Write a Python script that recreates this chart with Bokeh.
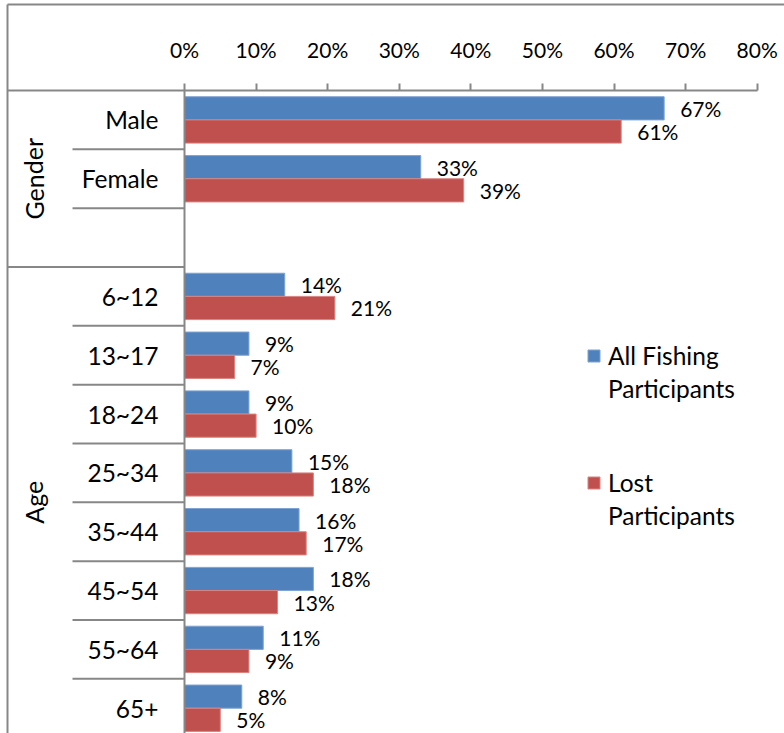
from bokeh.plotting import figure
from bokeh.models import (Range1d, LinearAxis, FixedTicker, PrintfTickFormatter,
                          Legend, LegendItem, ColumnDataSource)
from bokeh.core.properties import value
from bokeh.embed import file_html
from bokeh.resources import INLINE

# ---- data -------------------------------------------------------------
group_names = ["Gender", "Age"]

gender_categories = ["Male", "Female"]
gender_all_fishing = [67, 33]
gender_lost = [61, 39]
gender_slots = 3          # the gender block keeps one empty slot below "Female"

age_categories = ["6~12", "13~17", "18~24", "25~34", "35~44", "45~54", "55~64", "65+"]
age_all_fishing = [14, 9, 9, 15, 16, 18, 11, 8]
age_lost = [21, 7, 10, 18, 17, 13, 9, 5]

x_ticks = [0, 10, 20, 30, 40, 50, 60, 70, 80]
series_names = [["All Fishing", "Participants"], ["Lost", "Participants"]]

# ---- styling ----------------------------------------------------------
BLUE = "#4F81BD"
RED = "#C0504D"
GRAY = "#878787"
FONT = "Lato"

W, H = 784, 733
PX_PER_PCT = 7.159        # horizontal scale
PX_PER_ROW = 58.83        # height of one category slot
ZERO_X = 184              # canvas x of 0 %
HEADER_Y = 90             # canvas y of the top axis line

def xd(px):
    return (px - ZERO_X) / PX_PER_PCT

def yd(py):
    return (py - HEADER_Y) / PX_PER_ROW

# ---- rows -------------------------------------------------------------
rows_gender = list(range(len(gender_categories)))
rows_age = [gender_slots + i for i in range(len(age_categories))]
n_slots = gender_slots + len(age_categories)

cats = gender_categories + age_categories
rows = rows_gender + rows_age
all_vals = gender_all_fishing + age_all_fishing
lost_vals = gender_lost + age_lost

off = 0.197
bar_h = 0.394
src = ColumnDataSource(dict(
    cat=cats,
    y_all=[r + 0.5 - off for r in rows],
    y_lost=[r + 0.5 + off for r in rows],
    all=all_vals,
    lost=lost_vals,
    all_lbl=[f"{v}%" for v in all_vals],
    lost_lbl=[f"{v}%" for v in lost_vals],
))

p = figure(width=W, height=H, output_backend="svg", toolbar_location=None,
           x_range=Range1d(xd(0), xd(W)), y_range=Range1d(yd(H), yd(0)),
           x_axis_location=None, y_axis_location=None,
           min_border=0, min_border_left=0, min_border_right=0,
           min_border_top=0, min_border_bottom=0)
p.grid.visible = False
p.outline_line_color = None
p.background_fill_color = "white"
p.border_fill_color = "white"

# chart border (top and left edges)
left_edge = xd(7)
top_edge = yd(4)
p.segment(x0=[left_edge], x1=[xd(W + 5)], y0=[top_edge], y1=[top_edge],
          line_color=GRAY, line_width=2)
p.segment(x0=[left_edge], x1=[left_edge], y0=[top_edge], y1=[n_slots + 1],
          line_color=GRAY, line_width=2)

# category separators: short inside a group, full width between groups
inner_left = xd(72)
short_b = [1, 2] + [gender_slots + i for i in range(1, len(age_categories) + 1)]
p.segment(x0=inner_left, x1=0, y0=short_b, y1=short_b, line_color=GRAY, line_width=2)
p.segment(x0=[left_edge], x1=[0], y0=[gender_slots], y1=[gender_slots],
          line_color=GRAY, line_width=2)

# bars
r_all = p.hbar(y="y_all", left=0, right="all", height=bar_h, source=src,
               fill_color=BLUE, line_color="#7ea3d3", line_width=1)
r_lost = p.hbar(y="y_lost", left=0, right="lost", height=bar_h, source=src,
                fill_color=RED, line_color="#d98482", line_width=1)

# value labels
for ycol, xcol, tcol in (("y_all", "all", "all_lbl"), ("y_lost", "lost", "lost_lbl")):
    p.text(x=xcol, y=ycol, text=tcol, source=src, x_offset=16, y_offset=0,
           text_font=value(FONT), text_font_size="21px", text_color="black",
           text_align="left", text_baseline="middle")

# group labels (rotated)
p.text(x=[xd(33), xd(33)], y=[gender_slots / 2, gender_slots + len(age_categories) / 2],
       text=group_names, angle=1.5708, text_font=value(FONT), text_font_size="25px",
       text_color="black", text_align="center", text_baseline="middle")

# top percentage axis
top_axis = LinearAxis(fixed_location=0, ticker=FixedTicker(ticks=x_ticks),
                      formatter=PrintfTickFormatter(format="%d%%"),
                      bounds=(left_edge, x_ticks[-1]))
top_axis.axis_line_color = GRAY
top_axis.axis_line_width = 2
top_axis.major_tick_line_color = GRAY
top_axis.major_tick_line_width = 2
top_axis.major_tick_out = 7
top_axis.major_tick_in = 0
top_axis.minor_tick_out = 0
top_axis.minor_tick_in = 0
top_axis.major_label_standoff = 22
top_axis.major_label_text_font = FONT
top_axis.major_label_text_font_size = "21px"
top_axis.major_label_text_color = "black"
p.add_layout(top_axis, "above")

# category axis along the 0 % line
centers = [r + 0.5 for r in rows]
left_axis = LinearAxis(fixed_location=0, ticker=FixedTicker(ticks=centers),
                       major_label_overrides={c: n for c, n in zip(centers, cats)},
                       bounds=(0, n_slots + 1))
left_axis.axis_line_color = GRAY
left_axis.axis_line_width = 2
left_axis.major_tick_out = 0
left_axis.major_tick_in = 0
left_axis.minor_tick_out = 0
left_axis.minor_tick_in = 0
left_axis.major_label_standoff = 26
left_axis.major_label_text_font = FONT
left_axis.major_label_text_font_size = "24.5px"
left_axis.major_label_text_color = "black"
p.add_layout(left_axis, "left")

# legend: one block per series, the glyph sits on the first text line
def make_legend(lines, renderer, bottom):
    items = [LegendItem(label=lines[0], renderers=[renderer])]
    items += [LegendItem(label=t) for t in lines[1:]]
    return Legend(items=items, location=(586, bottom), orientation="vertical",
                  glyph_width=15, glyph_height=15, label_standoff=7, spacing=0,
                  label_height=33, padding=0, margin=0, border_line_color=None,
                  background_fill_alpha=0, label_text_font=FONT,
                  label_text_font_size="24.5px", label_text_color="black")

p.add_layout(make_legend(series_names[0], r_all, 328))
p.add_layout(make_legend(series_names[1], r_lost, 201))

open("out.html", "w").write(file_html(p, INLINE))
